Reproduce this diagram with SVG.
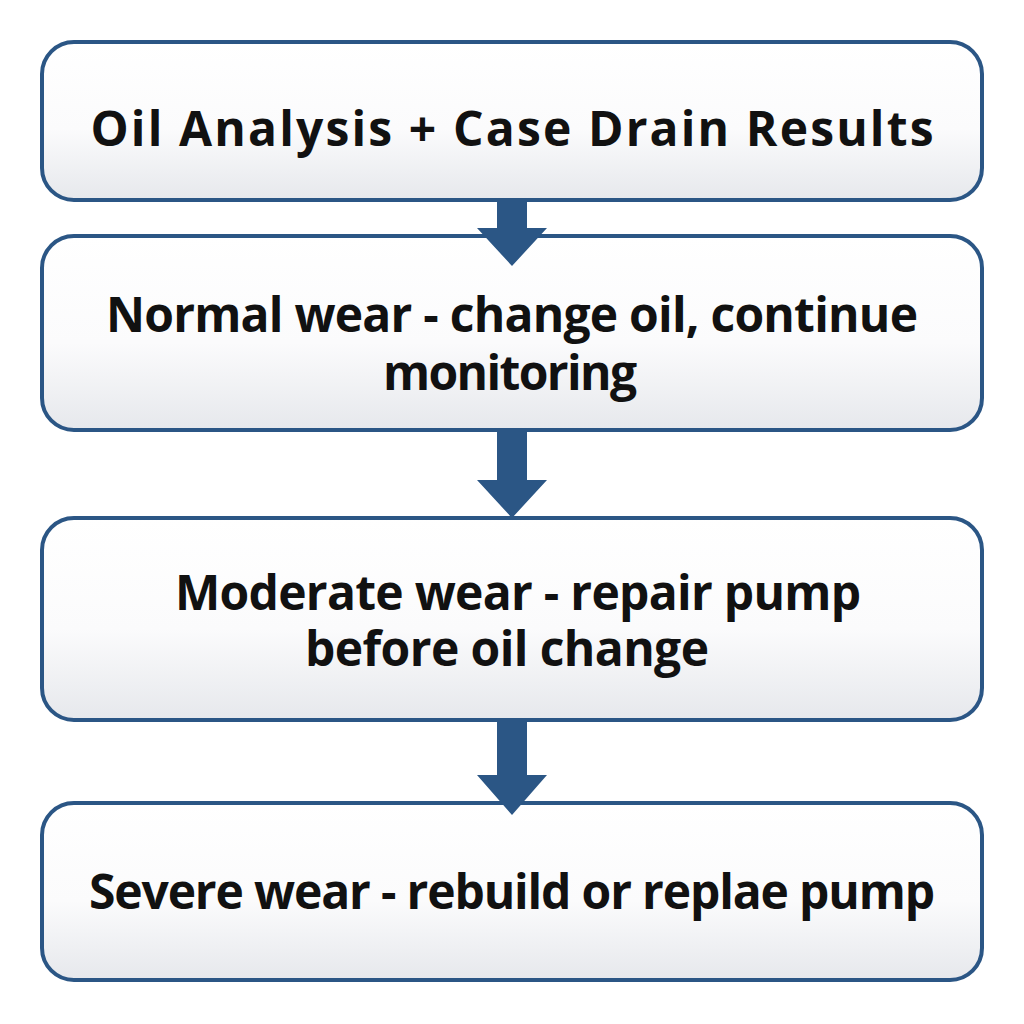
<svg xmlns="http://www.w3.org/2000/svg" width="1024" height="1024" viewBox="0 0 1024 1024">
<defs>
<linearGradient id="g" x1="0" y1="0" x2="0" y2="1">
<stop offset="0" stop-color="#ffffff"/><stop offset="0.55" stop-color="#fbfbfc"/><stop offset="1" stop-color="#e6e8ec"/>
</linearGradient>
<style>
.box{fill:url(#g);stroke:#2b5685;stroke-width:4}
.t{font-family:"Open Sans","Liberation Sans",sans-serif;font-weight:bold;font-size:48px;fill:#111;text-anchor:middle}
.arr{fill:#2b5685}
</style>
</defs>
<rect width="1024" height="1024" fill="#fff"/>
<g id="n1"><rect class="box" x="42" y="42" width="940" height="158" rx="32"/>
<text class="t" x="512" y="146" textLength="843">Oil Analysis + Case Drain Results</text></g>
<g id="n2"><rect class="box" x="42" y="236" width="940" height="194" rx="32"/>
<text class="t" x="512" y="332" textLength="812">Normal wear - change oil, continue</text>
<text class="t" x="510" y="390" textLength="254">monitoring</text></g>
<g id="n3"><rect class="box" x="42" y="518" width="940" height="202" rx="32"/>
<text class="t" x="518" y="610" textLength="686">Moderate wear - repair pump</text>
<text class="t" x="507" y="666" textLength="404">before oil change</text></g>
<g id="n4"><rect class="box" x="42" y="803" width="940" height="177" rx="32"/>
<text class="t" x="512" y="909" textLength="846">Severe wear - rebuild or replae pump</text></g>
<g id="connectors">
<path class="arr" d="M497 200 H527 V228 H547 L512 266 L477 228 H497 Z"/>
<path class="arr" d="M497 432 H527 V480 H547 L512 518 L477 480 H497 Z"/>
<path class="arr" d="M497 722 H527 V775 H547 L512 815 L477 775 H497 Z"/>
</g>
</svg>
